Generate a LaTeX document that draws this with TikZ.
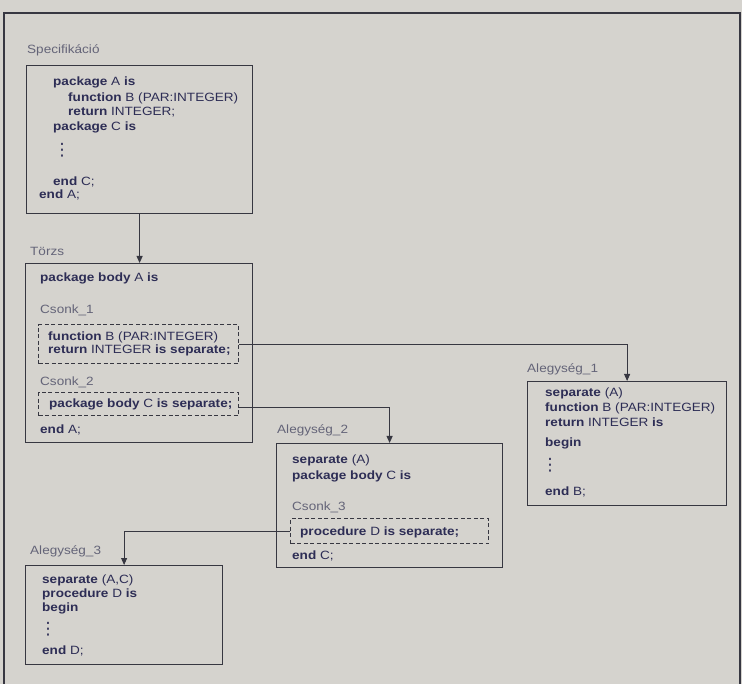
\documentclass[tikz,border=0pt]{standalone}
\usepackage{fontspec}
\setmainfont{Liberation Sans}[FakeStretch=1.13]
\newfontfamily\dotfont{DejaVu Sans}
\usetikzlibrary{arrows.meta}
\definecolor{paper}{RGB}{213,211,206}
\definecolor{ink}{RGB}{45,45,85}
\definecolor{edge}{RGB}{55,55,65}
\definecolor{lbl}{RGB}{100,100,120}
\begin{document}
\begin{tikzpicture}[x=1pt,y=-1pt,
  code/.style={anchor=base west, inner sep=0pt, text=ink, font=\fontsize{12}{13}\selectfont},
  lab/.style={anchor=base west, inner sep=0pt, text=lbl, font=\fontsize{12}{13}\selectfont},
  dotcol/.style={anchor=center, inner sep=0pt, text=ink, font=\dotfont\fontsize{17}{17}\selectfont},
  box/.style={draw=edge, line width=1.2pt, anchor=north west, inner sep=0pt},
  stub/.style={draw=edge, line width=1.1pt, dash pattern=on 4pt off 2.5pt, anchor=north west, inner sep=0pt},
  arr/.style={draw=edge, line width=0.9pt, -{Triangle[length=7pt,width=6pt]}}]
\useasboundingbox (0,0) rectangle (742,684);
\fill[paper] (0,0) rectangle (742,684);
\draw[edge, line width=1.2pt] (4,684) -- (4,13) -- (740,13) -- (740,684);

% Specifikacio
\node[lab] (lspec) at (27,54) {Specifikáció};
\node[box, minimum width=226pt, minimum height=148pt] (spec) at (26,65) {};
\node[code] (s1) at (53,86) {\textbf{package} A \textbf{is}};
\node[code] (s2) at (68,102) {\textbf{function} B (PAR:INTEGER)};
\node[code] (s3) at (68,116) {\textbf{return} INTEGER;};
\node[code] (s4) at (53,131) {\textbf{package} C \textbf{is}};
\node[dotcol] (s5) at (62,150) {⋮};
\node[code] (s6) at (53,186) {\textbf{end} C;};
\node[code] (s7) at (39,199) {\textbf{end} A;};

% Torzs
\node[lab] (ltorzs) at (30,256) {Törzs};
\node[box, minimum width=227pt, minimum height=179pt] (torzs) at (25,263) {};
\node[code] (t1) at (40,282) {\textbf{package body} A \textbf{is}};
\node[lab] (lc1) at (40,314) {Csonk\_1};
\node[stub, minimum width=200pt, minimum height=39pt] (c1) at (38,324) {};
\node[code] (t2) at (48,341) {\textbf{function} B (PAR:INTEGER)};
\node[code] (t3) at (48,354) {\textbf{return} INTEGER \textbf{is separate;}};
\node[lab] (lc2) at (40,386) {Csonk\_2};
\node[stub, minimum width=200pt, minimum height=23pt] (c2) at (38,392) {};
\node[code] (t4) at (49,408) {\textbf{package body} C \textbf{is separate;}};
\node[code] (t5) at (40,434) {\textbf{end} A;};

% Alegyseg_1
\node[lab] (la1) at (527,373) {Alegység\_1};
\node[box, minimum width=199pt, minimum height=124pt] (a1) at (527,381) {};
\node[code] (u1) at (545,397) {\textbf{separate} (A)};
\node[code] (u2) at (545,412) {\textbf{function} B (PAR:INTEGER)};
\node[code] (u3) at (545,427) {\textbf{return} INTEGER \textbf{is}};
\node[code] (u4) at (545,447) {\textbf{begin}};
\node[dotcol] (u5) at (550,465) {⋮};
\node[code] (u6) at (545,496) {\textbf{end} B;};

% Alegyseg_2
\node[lab] (la2) at (277,434) {Alegység\_2};
\node[box, minimum width=226pt, minimum height=124pt] (a2) at (276,443) {};
\node[code] (v1) at (292,464) {\textbf{separate} (A)};
\node[code] (v2) at (292,479) {\textbf{package body} C \textbf{is}};
\node[lab] (lc3) at (292,511) {Csonk\_3};
\node[stub, minimum width=198pt, minimum height=25pt] (c3) at (290,518) {};
\node[code] (v3) at (300,535) {\textbf{procedure} D \textbf{is separate;}};
\node[code] (v4) at (292,559) {\textbf{end} C;};

% Alegyseg_3
\node[lab] (la3) at (30,554) {Alegység\_3};
\node[box, minimum width=197pt, minimum height=99pt] (a3) at (25,565) {};
\node[code] (w1) at (42,583) {\textbf{separate} (A,C)};
\node[code] (w2) at (42,597) {\textbf{procedure} D \textbf{is}};
\node[code] (w3) at (42,611) {\textbf{begin}};
\node[dotcol] (w4) at (48,629) {⋮};
\node[code] (w5) at (42,654) {\textbf{end} D;};

% connectors
\draw[arr] (spec.south) -- (spec.south |- torzs.north);
\draw[arr] (c1.east) -| (a1.north);
\draw[arr] ([yshift=-3.5pt]c2.east) -| (a2.north);
\draw[arr] (c3.west) -| (a3.north);
\end{tikzpicture}
\end{document}
